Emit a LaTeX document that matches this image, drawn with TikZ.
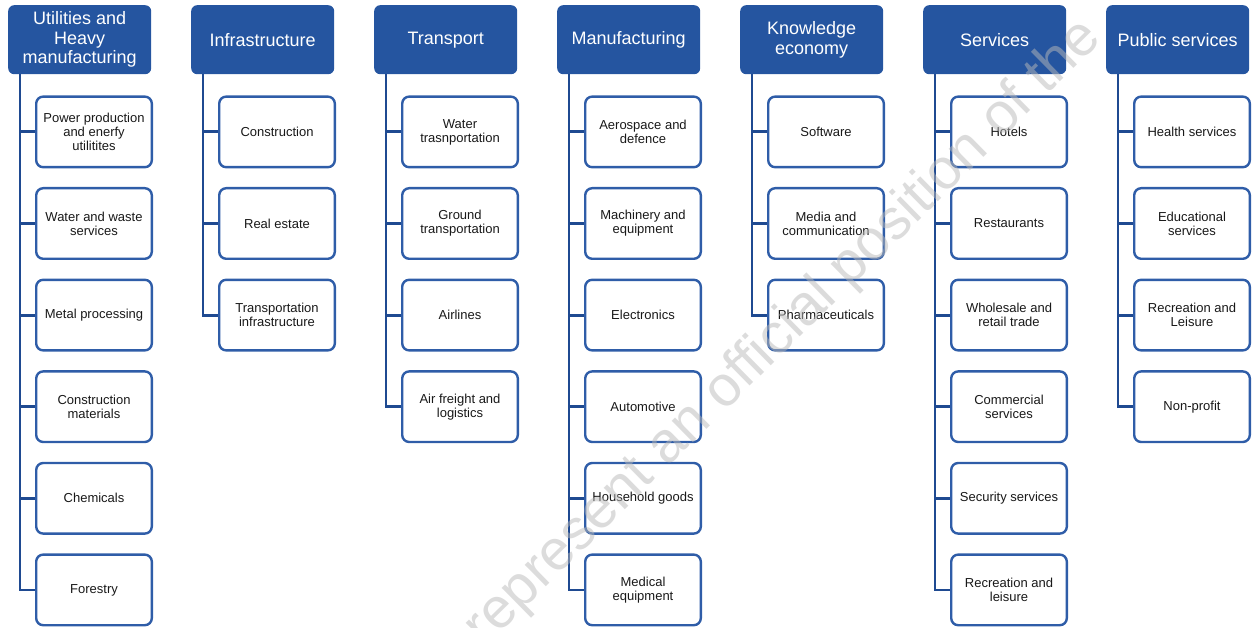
\documentclass[tikz,border=0pt]{standalone}
\usepackage{fontspec}
\setmainfont{Liberation Sans}
\usetikzlibrary{positioning}

\definecolor{headblue}{RGB}{37,85,160}
\definecolor{lineblue}{RGB}{31,74,145}
\definecolor{boxblue}{RGB}{47,93,168}

\begin{document}
\begin{tikzpicture}[x=1pt, y=1pt,
    sector/.style={rectangle, rounded corners=6pt, fill=headblue, text=white, minimum width=143pt, minimum height=69pt, inner sep=2pt, align=center, font=\fontsize{18}{19.5}\selectfont},
    branch/.style={rectangle, rounded corners=7pt, draw=boxblue, line width=2.4pt, fill=white, minimum width=115.6pt, minimum height=70.6pt, inner sep=2pt, align=center, text=black!90, font=\fontsize{13}{14}\selectfont},
    link/.style={draw=lineblue, line width=2.8pt}]
    \useasboundingbox (0,0) rectangle (1252,-628);

    \node[sector, anchor=north west] (hUtil) at (8,-5) {Utilities and\\Heavy\\manufacturing};
    \node[sector, right=39.6pt of hUtil] (hInfra) {Infrastructure};
    \node[sector, right=39.6pt of hInfra] (hTrans) {Transport};
    \node[sector, right=39.6pt of hTrans] (hManuf) {Manufacturing};
    \node[sector, right=39.6pt of hManuf] (hKnow) {Knowledge\\economy};
    \node[sector, right=39.6pt of hKnow] (hServ) {Services};
    \node[sector, right=39.6pt of hServ] (hPublic) {Public services};

    % branches hang under each sector
    \foreach \hd/\items in {
        hUtil/{Power production\\and enerfy\\utilitites, Water and waste\\services, Metal processing, Construction\\materials, Chemicals, Forestry},
        hInfra/{Construction, Real estate, Transportation\\infrastructure},
        hTrans/{Water\\trasnportation, Ground\\transportation, Airlines, Air freight and\\logistics},
        hManuf/{Aerospace and\\defence, Machinery and\\equipment, Electronics, Automotive, Household goods, Medical\\equipment},
        hKnow/{Software, Media and\\communication, Pharmaceuticals},
        hServ/{Hotels, Restaurants, Wholesale and\\retail trade, Commercial\\services, Security services, Recreation and\\leisure},
        hPublic/{Health services, Educational\\services, Recreation and\\Leisure, Non-profit}} {
      \foreach [count=\i] \txt in \items {
        \ifnum\i=1
          \node[branch, below right=21pt and 27pt of \hd.south west] (\hd-\i) {\txt};
        \else
          \pgfmathtruncatemacro\prev{\i-1}
          \node[branch, below=18.6pt of \hd-\prev] (\hd-\i) {\txt};
        \fi
        \draw[link] ([xshift=12pt]\hd.south west) |- (\hd-\i.west);
      }
    }

    \node[rotate=44.5, anchor=base west, text=gray!55, opacity=0.5, font=\fontsize{57}{57}\selectfont] (mark) at (482,-650) {represent an official position of the};
\end{tikzpicture}
\end{document}
